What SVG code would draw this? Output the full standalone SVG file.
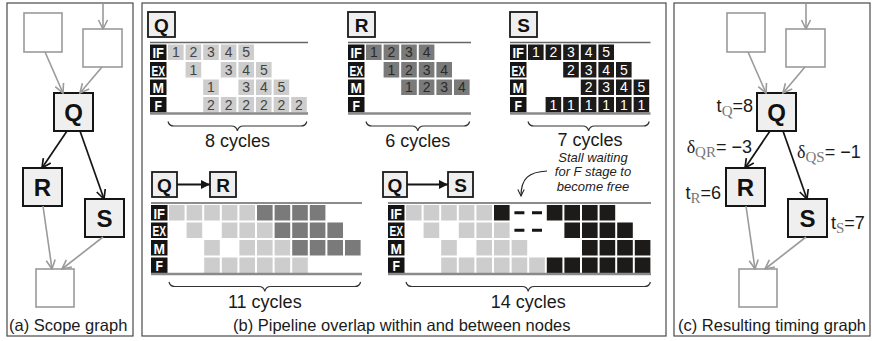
<svg xmlns="http://www.w3.org/2000/svg" xmlns:xlink="http://www.w3.org/1999/xlink" width="872" height="341" viewBox="0 0 872 341">
<defs>
<style>
text{font-family:"Liberation Sans",Arial,sans-serif}
.frame{fill:#fff;stroke:#4a4a4a;stroke-width:1.2}
.cap{font-size:16.5px;fill:#1a1a1a}
.node rect{fill:#efefef;stroke:#151515;stroke-width:2}
.node text{font-weight:bold;font-size:24px;text-anchor:middle;fill:#111}
.ghost rect{fill:#fff;stroke:#9a9a9a;stroke-width:1.6}
.eg{stroke:#9a9a9a;stroke-width:1.6;fill:none;marker-end:url(#ag)}
.ek{stroke:#151515;stroke-width:1.7;fill:none;marker-end:url(#ak)}
.tag rect{fill:#efefef;stroke:#1a1a1a;stroke-width:1.8}
.tag text{font-weight:bold;font-size:19px;text-anchor:middle;fill:#111}
.lt{fill:#cdcdcd}.dk{fill:#7a7a7a}.bk{fill:#1d1a1a}
.top{stroke:#666;stroke-width:1.5}
.bot{stroke:#8a8a8a;stroke-width:2.5}
.brace{fill:none;stroke:#333;stroke-width:1.2}
.cyc{font-size:18px;text-anchor:middle;fill:#1a1a1a}
.n{font-size:14px;text-anchor:middle}
.nq{fill:#444}.nr{fill:#2a2a2a}.ns{fill:#fff}
.rl{fill:#fff;font-weight:bold;font-size:15px}
.note{font-size:13px;font-style:italic;text-anchor:middle;fill:#222}
.tl{font-size:18px;fill:#1a1a1a}
.sub{font-family:"Liberation Serif",serif;font-size:15px;fill:#777}
.gr{font-family:"Liberation Serif",serif}
</style>
<marker id="ag" viewBox="0 0 12 12" refX="11" refY="6" markerWidth="12" markerHeight="12" markerUnits="userSpaceOnUse" orient="auto"><path d="M2,1.5 L11,6 L2,10.5" fill="none" stroke="#9a9a9a" stroke-width="1.6"/></marker>
<marker id="ak" viewBox="0 0 12 12" refX="11" refY="6" markerWidth="12" markerHeight="12" markerUnits="userSpaceOnUse" orient="auto"><path d="M2,1.5 L11,6 L2,10.5" fill="none" stroke="#151515" stroke-width="1.7"/></marker>
<marker id="af" viewBox="0 0 10 10" refX="10" refY="5" markerWidth="10" markerHeight="9" markerUnits="userSpaceOnUse" orient="auto"><path d="M0,0 L10,5 L0,10 z" fill="#151515"/></marker>
<marker id="an" viewBox="0 0 10 10" refX="9" refY="5" markerWidth="8" markerHeight="8" markerUnits="userSpaceOnUse" orient="auto"><path d="M1,1 L9,5 L1,9" fill="none" stroke="#222" stroke-width="1.3"/></marker>
<rect id="cl" width="15.6" height="15.5"/>
<rect id="ds" width="10" height="3" fill="#151515"/>
<g id="rows">
<rect x="0" y="2" width="16.5" height="15.5" fill="#141414"/>
<rect x="0" y="19.5" width="16.5" height="15.5" fill="#141414"/>
<rect x="0" y="37" width="16.5" height="15.5" fill="#141414"/>
<rect x="0" y="54.5" width="16.5" height="15.5" fill="#141414"/>
<text class="rl" x="2.5" y="15.5" textLength="11.5" lengthAdjust="spacingAndGlyphs">IF</text>
<text class="rl" x="1.5" y="33" textLength="13.5" lengthAdjust="spacingAndGlyphs">EX</text>
<text class="rl" x="2.5" y="50.5" textLength="11.5" lengthAdjust="spacingAndGlyphs">M</text>
<text class="rl" x="4.5" y="68" textLength="7.5" lengthAdjust="spacingAndGlyphs">F</text>
</g>
</defs>

<!-- panel frames -->
<rect class="frame" x="7" y="3" width="126" height="333"/>
<rect class="frame" x="142" y="3" width="524" height="333"/>
<rect class="frame" x="674" y="3" width="196" height="333"/>

<!-- (a) scope graph -->
<g id="a-top-left" class="ghost"><rect x="24" y="13" width="38" height="39"/></g>
<g id="a-top-right" class="ghost"><rect x="83" y="29" width="39" height="38"/></g>
<g id="a-Q" class="node"><rect x="54" y="93" width="39" height="38"/><text x="73.5" y="120.5">Q</text></g>
<g id="a-R" class="node"><rect x="23" y="168" width="39" height="38"/><text x="42.5" y="195.5">R</text></g>
<g id="a-S" class="node"><rect x="85" y="199" width="39" height="38"/><text x="104.5" y="226.5">S</text></g>
<g id="a-bottom" class="ghost"><rect x="36" y="269" width="38" height="38"/></g>
<g id="a-edges">
<line class="eg" x1="103" y1="4" x2="103" y2="29"/>
<line class="eg" x1="45" y1="52" x2="63" y2="93"/>
<line class="eg" x1="102" y1="67" x2="80" y2="93"/>
<line class="ek" x1="67" y1="131" x2="42" y2="168"/>
<line class="ek" x1="80" y1="131" x2="104" y2="199"/>
<line class="eg" x1="43" y1="206" x2="52" y2="269"/>
<line class="eg" x1="103" y1="237" x2="62" y2="269"/>
</g>
<text class="cap" x="9" y="331">(a) Scope graph</text>

<!-- (b) pipeline tables -->
<g id="tag-Q" class="tag"><rect x="148" y="12" width="27" height="25"/><text x="161.5" y="31.5">Q</text></g>
<g id="tag-R" class="tag"><rect x="348" y="12" width="27" height="25"/><text x="361.5" y="31.5">R</text></g>
<g id="tag-S" class="tag"><rect x="510" y="12" width="27" height="25"/><text x="523.5" y="31.5">S</text></g>

<g id="table-Q" transform="translate(150,42.5)">
<line class="top" x1="0" y1="0" x2="158" y2="0"/>
<use href="#rows"/>
<use href="#cl" class="lt" x="18" y="2"/><use href="#cl" class="lt" x="35.6" y="2"/><use href="#cl" class="lt" x="53.2" y="2"/><use href="#cl" class="lt" x="70.8" y="2"/><use href="#cl" class="lt" x="88.4" y="2"/>
<use href="#cl" class="lt" x="35.6" y="19.5"/><use href="#cl" class="lt" x="70.8" y="19.5"/><use href="#cl" class="lt" x="88.4" y="19.5"/><use href="#cl" class="lt" x="106" y="19.5"/>
<use href="#cl" class="lt" x="53.2" y="37"/><use href="#cl" class="lt" x="88.4" y="37"/><use href="#cl" class="lt" x="106" y="37"/><use href="#cl" class="lt" x="123.6" y="37"/>
<use href="#cl" class="lt" x="53.2" y="54.5"/><use href="#cl" class="lt" x="70.8" y="54.5"/><use href="#cl" class="lt" x="88.4" y="54.5"/><use href="#cl" class="lt" x="106" y="54.5"/><use href="#cl" class="lt" x="123.6" y="54.5"/><use href="#cl" class="lt" x="141.2" y="54.5"/>
<g class="n nq">
<text x="25.8" y="14.8">1</text><text x="43.4" y="14.8">2</text><text x="61" y="14.8">3</text><text x="78.6" y="14.8">4</text><text x="96.2" y="14.8">5</text>
<text x="43.4" y="32.3">1</text><text x="78.6" y="32.3">3</text><text x="96.2" y="32.3">4</text><text x="113.8" y="32.3">5</text>
<text x="61" y="49.8">1</text><text x="96.2" y="49.8">3</text><text x="113.8" y="49.8">4</text><text x="131.4" y="49.8">5</text>
<text x="61" y="67.3">2</text><text x="78.6" y="67.3">2</text><text x="96.2" y="67.3">2</text><text x="113.8" y="67.3">2</text><text x="131.4" y="67.3">2</text><text x="149" y="67.3">2</text>
</g>
<line class="bot" x1="0" y1="71" x2="158" y2="71"/>
<path class="brace" d="M18,79 q1,4.5 6,4.5 H81.4 q5,0 6,5 q1,-5 6,-5 H150.8 q5,0 6,-4.5"/>
<text class="cyc" x="87.4" y="104">8 cycles</text>
</g>

<g id="table-R" transform="translate(348,42.5)">
<line class="top" x1="0" y1="0" x2="123" y2="0"/>
<use href="#rows"/>
<use href="#cl" class="dk" x="18" y="2"/><use href="#cl" class="dk" x="35.6" y="2"/><use href="#cl" class="dk" x="53.2" y="2"/><use href="#cl" class="dk" x="70.8" y="2"/>
<use href="#cl" class="dk" x="35.6" y="19.5"/><use href="#cl" class="dk" x="53.2" y="19.5"/><use href="#cl" class="dk" x="70.8" y="19.5"/><use href="#cl" class="dk" x="88.4" y="19.5"/>
<use href="#cl" class="dk" x="53.2" y="37"/><use href="#cl" class="dk" x="70.8" y="37"/><use href="#cl" class="dk" x="88.4" y="37"/><use href="#cl" class="dk" x="106" y="37"/>
<g class="n nr">
<text x="25.8" y="14.8">1</text><text x="43.4" y="14.8">2</text><text x="61" y="14.8">3</text><text x="78.6" y="14.8">4</text>
<text x="43.4" y="32.3">1</text><text x="61" y="32.3">2</text><text x="78.6" y="32.3">3</text><text x="96.2" y="32.3">4</text>
<text x="61" y="49.8">1</text><text x="78.6" y="49.8">2</text><text x="96.2" y="49.8">3</text><text x="113.8" y="49.8">4</text>
</g>
<line class="bot" x1="0" y1="71" x2="123" y2="71"/>
<path class="brace" d="M18,79 q1,4.5 6,4.5 H63.8 q5,0 6,5 q1,-5 6,-5 H115.6 q5,0 6,-4.5"/>
<text class="cyc" x="69.8" y="104">6 cycles</text>
</g>

<g id="table-S" transform="translate(510,42.5)">
<line class="top" x1="0" y1="0" x2="140.5" y2="0"/>
<use href="#rows"/>
<use href="#cl" class="bk" x="18" y="2"/><use href="#cl" class="bk" x="35.6" y="2"/><use href="#cl" class="bk" x="53.2" y="2"/><use href="#cl" class="bk" x="70.8" y="2"/><use href="#cl" class="bk" x="88.4" y="2"/>
<use href="#cl" class="bk" x="53.2" y="19.5"/><use href="#cl" class="bk" x="70.8" y="19.5"/><use href="#cl" class="bk" x="88.4" y="19.5"/><use href="#cl" class="bk" x="106" y="19.5"/>
<use href="#cl" class="bk" x="70.8" y="37"/><use href="#cl" class="bk" x="88.4" y="37"/><use href="#cl" class="bk" x="106" y="37"/><use href="#cl" class="bk" x="123.6" y="37"/>
<use href="#cl" class="bk" x="35.6" y="54.5"/><use href="#cl" class="bk" x="53.2" y="54.5"/><use href="#cl" class="bk" x="70.8" y="54.5"/><use href="#cl" class="bk" x="88.4" y="54.5"/><use href="#cl" class="bk" x="106" y="54.5"/><use href="#cl" class="bk" x="123.6" y="54.5"/>
<g class="n ns">
<text x="25.8" y="14.8">1</text><text x="43.4" y="14.8">2</text><text x="61" y="14.8">3</text><text x="78.6" y="14.8">4</text><text x="96.2" y="14.8">5</text>
<text x="61" y="32.3">2</text><text x="78.6" y="32.3">3</text><text x="96.2" y="32.3">4</text><text x="113.8" y="32.3">5</text>
<text x="78.6" y="49.8">2</text><text x="96.2" y="49.8">3</text><text x="113.8" y="49.8">4</text><text x="131.4" y="49.8">5</text>
<text x="43.4" y="67.3">1</text><text x="61" y="67.3">1</text><text x="78.6" y="67.3">1</text><text x="96.2" y="67.3">1</text><text x="113.8" y="67.3">1</text><text x="131.4" y="67.3">1</text>
</g>
<line class="bot" x1="0" y1="71" x2="140.5" y2="71"/>
<path class="brace" d="M18,79 q1,4.5 6,4.5 H72.6 q5,0 6,5 q1,-5 6,-5 H133.2 q5,0 6,-4.5"/>
<text class="cyc" x="80" y="103">7 cycles</text>
</g>

<!-- Q followed by R -->
<g id="tag-QR-Q" class="tag"><rect x="152" y="172" width="25" height="25"/><text x="164.5" y="191.5">Q</text></g>
<g id="tag-QR-R" class="tag"><rect x="210" y="172" width="26" height="25"/><text x="223" y="191.5">R</text></g>
<line x1="177" y1="184.5" x2="210" y2="184.5" stroke="#151515" stroke-width="1.8" marker-end="url(#af)"/>

<g id="table-QR" transform="translate(151,203)">
<line class="top" x1="0" y1="0" x2="211" y2="0"/>
<use href="#rows"/>
<use href="#cl" class="lt" x="18" y="2"/><use href="#cl" class="lt" x="35.6" y="2"/><use href="#cl" class="lt" x="53.2" y="2"/><use href="#cl" class="lt" x="70.8" y="2"/><use href="#cl" class="lt" x="88.4" y="2"/>
<use href="#cl" class="dk" x="106" y="2"/><use href="#cl" class="dk" x="123.6" y="2"/><use href="#cl" class="dk" x="141.2" y="2"/><use href="#cl" class="dk" x="158.8" y="2"/>
<use href="#cl" class="lt" x="35.6" y="19.5"/><use href="#cl" class="lt" x="70.8" y="19.5"/><use href="#cl" class="lt" x="88.4" y="19.5"/><use href="#cl" class="lt" x="106" y="19.5"/>
<use href="#cl" class="dk" x="123.6" y="19.5"/><use href="#cl" class="dk" x="141.2" y="19.5"/><use href="#cl" class="dk" x="158.8" y="19.5"/><use href="#cl" class="dk" x="176.4" y="19.5"/>
<use href="#cl" class="lt" x="53.2" y="37"/><use href="#cl" class="lt" x="88.4" y="37"/><use href="#cl" class="lt" x="106" y="37"/><use href="#cl" class="lt" x="123.6" y="37"/>
<use href="#cl" class="dk" x="141.2" y="37"/><use href="#cl" class="dk" x="158.8" y="37"/><use href="#cl" class="dk" x="176.4" y="37"/><use href="#cl" class="dk" x="194" y="37"/>
<use href="#cl" class="lt" x="53.2" y="54.5"/><use href="#cl" class="lt" x="70.8" y="54.5"/><use href="#cl" class="lt" x="88.4" y="54.5"/><use href="#cl" class="lt" x="106" y="54.5"/><use href="#cl" class="lt" x="123.6" y="54.5"/><use href="#cl" class="lt" x="141.2" y="54.5"/>
<line class="bot" x1="0" y1="71" x2="211" y2="71"/>
<path class="brace" d="M18,79 q1,4.5 6,4.5 H107.8 q5,0 6,5 q1,-5 6,-5 H203.6 q5,0 6,-4.5"/>
<text class="cyc" x="113.8" y="105">11 cycles</text>
</g>

<!-- Q followed by S -->
<g id="tag-QS-Q" class="tag"><rect x="383" y="172" width="24" height="25"/><text x="395" y="191.5">Q</text></g>
<g id="tag-QS-S" class="tag"><rect x="448" y="172" width="25" height="25"/><text x="460.5" y="191.5">S</text></g>
<line x1="407" y1="184.5" x2="448" y2="184.5" stroke="#151515" stroke-width="1.8" marker-end="url(#af)"/>

<g id="stall-note">
<text class="note"><tspan x="593" y="161.5">Stall waiting</tspan><tspan x="593" y="176">for F stage to</tspan><tspan x="593" y="190.5">become free</tspan></text>
<path d="M547,171 C529,172 521,178 521,196" fill="none" stroke="#222" stroke-width="1.2" marker-end="url(#an)"/>
</g>

<g id="table-QS" transform="translate(388,203)">
<line class="top" x1="0" y1="0" x2="263" y2="0"/>
<use href="#rows"/>
<use href="#cl" class="lt" x="18" y="2"/><use href="#cl" class="lt" x="35.6" y="2"/><use href="#cl" class="lt" x="53.2" y="2"/><use href="#cl" class="lt" x="70.8" y="2"/><use href="#cl" class="lt" x="88.4" y="2"/>
<use href="#cl" class="bk" x="106" y="2"/>
<use href="#ds" x="126.4" y="8.25"/><use href="#ds" x="144" y="8.25"/>
<use href="#cl" class="bk" x="158.8" y="2"/><use href="#cl" class="bk" x="176.4" y="2"/><use href="#cl" class="bk" x="194" y="2"/><use href="#cl" class="bk" x="211.6" y="2"/>
<use href="#cl" class="lt" x="35.6" y="19.5"/><use href="#cl" class="lt" x="70.8" y="19.5"/><use href="#cl" class="lt" x="88.4" y="19.5"/><use href="#cl" class="lt" x="106" y="19.5"/>
<use href="#ds" x="126.4" y="25.75"/><use href="#ds" x="144" y="25.75"/>
<use href="#cl" class="bk" x="176.4" y="19.5"/><use href="#cl" class="bk" x="194" y="19.5"/><use href="#cl" class="bk" x="211.6" y="19.5"/><use href="#cl" class="bk" x="229.2" y="19.5"/>
<use href="#cl" class="lt" x="53.2" y="37"/><use href="#cl" class="lt" x="88.4" y="37"/><use href="#cl" class="lt" x="106" y="37"/><use href="#cl" class="lt" x="123.6" y="37"/>
<use href="#cl" class="bk" x="194" y="37"/><use href="#cl" class="bk" x="211.6" y="37"/><use href="#cl" class="bk" x="229.2" y="37"/><use href="#cl" class="bk" x="246.8" y="37"/>
<use href="#cl" class="lt" x="53.2" y="54.5"/><use href="#cl" class="lt" x="70.8" y="54.5"/><use href="#cl" class="lt" x="88.4" y="54.5"/><use href="#cl" class="lt" x="106" y="54.5"/><use href="#cl" class="lt" x="123.6" y="54.5"/><use href="#cl" class="lt" x="141.2" y="54.5"/>
<use href="#cl" class="bk" x="158.8" y="54.5"/><use href="#cl" class="bk" x="176.4" y="54.5"/><use href="#cl" class="bk" x="194" y="54.5"/><use href="#cl" class="bk" x="211.6" y="54.5"/><use href="#cl" class="bk" x="229.2" y="54.5"/><use href="#cl" class="bk" x="246.8" y="54.5"/>
<line class="bot" x1="0" y1="71" x2="263" y2="71"/>
<path class="brace" d="M18,79 q1,4.5 6,4.5 H134.2 q5,0 6,5 q1,-5 6,-5 H256.4 q5,0 6,-4.5"/>
<text class="cyc" x="140.2" y="105">14 cycles</text>
</g>
<text class="cap" x="233" y="331">(b) Pipeline overlap within and between nodes</text>

<!-- (c) timing graph -->
<g id="c-top-left" class="ghost"><rect x="727" y="13" width="38" height="39"/></g>
<g id="c-top-right" class="ghost"><rect x="786" y="29" width="39" height="38"/></g>
<g id="c-Q" class="node"><rect x="757" y="93" width="39" height="38"/><text x="776.5" y="120.5">Q</text></g>
<g id="c-R" class="node"><rect x="726" y="168" width="39" height="38"/><text x="745.5" y="195.5">R</text></g>
<g id="c-S" class="node"><rect x="788" y="199" width="39" height="38"/><text x="807.5" y="226.5">S</text></g>
<g id="c-bottom" class="ghost"><rect x="739" y="269" width="38" height="38"/></g>
<g id="c-edges">
<line class="eg" x1="806" y1="4" x2="806" y2="29"/>
<line class="eg" x1="748" y1="52" x2="766" y2="93"/>
<line class="eg" x1="805" y1="67" x2="783" y2="93"/>
<line class="ek" x1="770" y1="131" x2="745" y2="168"/>
<line class="ek" x1="783" y1="131" x2="807" y2="199"/>
<line class="eg" x1="746" y1="206" x2="755" y2="269"/>
<line class="eg" x1="806" y1="237" x2="765" y2="269"/>
</g>
<g id="c-labels" class="tl">
<text x="753" y="112" text-anchor="end">t<tspan class="sub" dy="4">Q</tspan><tspan dy="-4">=8</tspan></text>
<text x="752" y="153" text-anchor="end"><tspan class="gr">δ</tspan><tspan class="sub" dy="4">QR</tspan><tspan dy="-4">= −3</tspan></text>
<text x="797" y="158"><tspan class="gr">δ</tspan><tspan class="sub" dy="4">QS</tspan><tspan dy="-4">= −1</tspan></text>
<text x="721" y="199" text-anchor="end">t<tspan class="sub" dy="4">R</tspan><tspan dy="-4">=6</tspan></text>
<text x="831" y="229">t<tspan class="sub" dy="4">S</tspan><tspan dy="-4">=7</tspan></text>
</g>
<text class="cap" x="678" y="331">(c) Resulting timing graph</text>
</svg>
